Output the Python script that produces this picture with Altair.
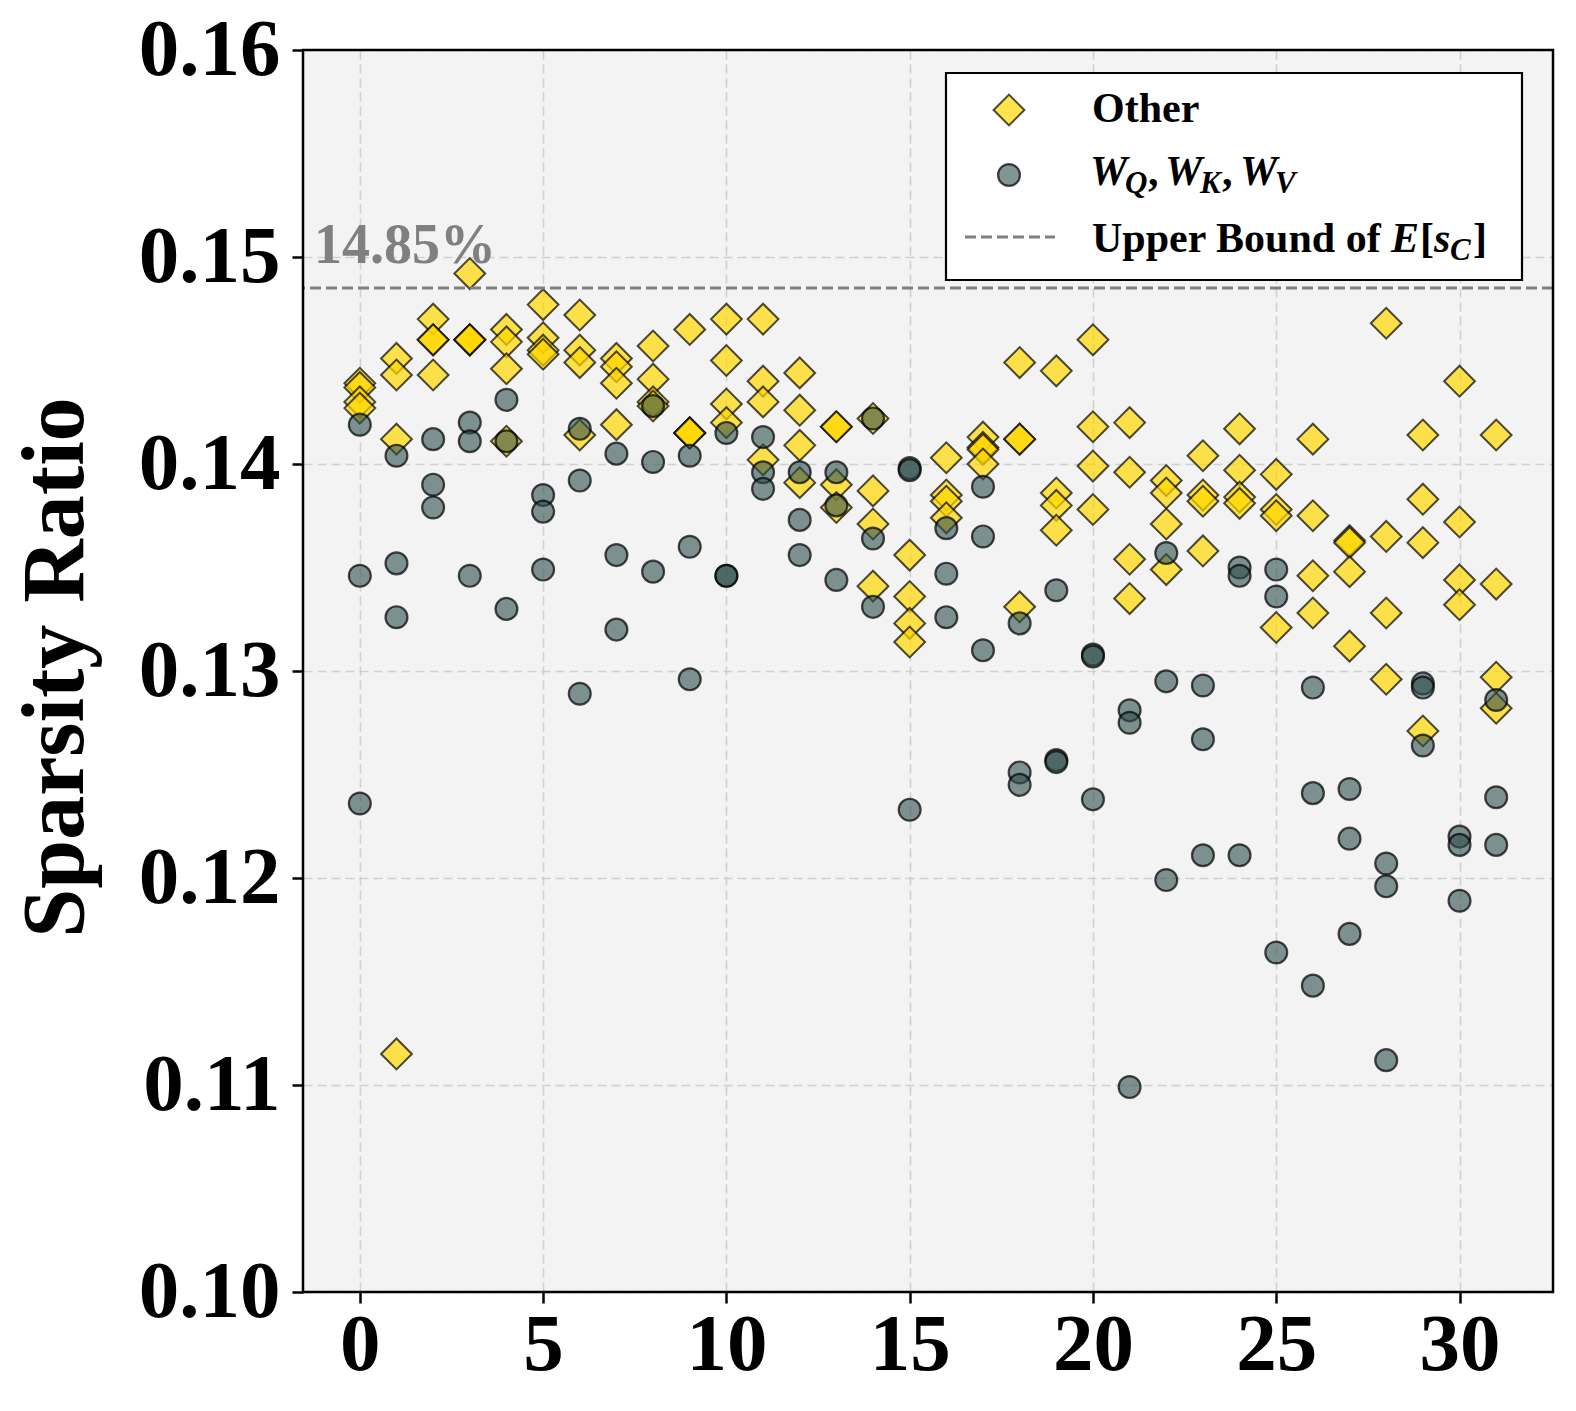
import altair as alt
import pandas as pd

# ---------------- data ----------------
layers = list(range(32))

other_vals = [
    [0.1439, 0.1437, 0.1430, 0.1427],
    [0.1451, 0.1443, 0.1412, 0.1115],
    [0.1470, 0.1460, 0.1460, 0.1443],
    [0.1492, 0.1460, 0.1460, 0.1460],
    [0.1465, 0.1459, 0.1446, 0.1411],
    [0.1477, 0.1461, 0.1455, 0.1453],
    [0.1472, 0.1455, 0.1449, 0.1414],
    [0.1451, 0.1447, 0.1439, 0.1419],
    [0.1457, 0.1441, 0.1430, 0.1428],
    [0.1465, 0.1415, 0.1415, 0.1415],
    [0.1470, 0.1450, 0.1429, 0.1420],
    [0.1470, 0.1440, 0.1430, 0.1402],
    [0.1444, 0.1426, 0.1409, 0.1391],
    [0.1418, 0.1418, 0.1390, 0.1379],
    [0.1422, 0.1387, 0.1371, 0.1341],
    [0.1356, 0.1336, 0.1323, 0.1314],
    [0.1403, 0.1385, 0.1382, 0.1374],
    [0.1413, 0.1408, 0.1407, 0.1400],
    [0.1449, 0.1412, 0.1412, 0.1331],
    [0.1445, 0.1386, 0.1380, 0.1368],
    [0.1460, 0.1418, 0.1399, 0.1378],
    [0.1420, 0.1396, 0.1354, 0.1335],
    [0.1392, 0.1386, 0.1371, 0.1349],
    [0.1404, 0.1385, 0.1382, 0.1358],
    [0.1417, 0.1397, 0.1384, 0.1381],
    [0.1395, 0.1378, 0.1375, 0.1321],
    [0.1412, 0.1375, 0.1346, 0.1328],
    [0.1363, 0.1362, 0.1348, 0.1312],
    [0.1468, 0.1365, 0.1328, 0.1296],
    [0.1414, 0.1383, 0.1362, 0.1271],
    [0.1440, 0.1372, 0.1344, 0.1332],
    [0.1414, 0.1342, 0.1297, 0.1282],
]

qkv_vals = [
    [0.1419, 0.1346, 0.1236],
    [0.1404, 0.1352, 0.1326],
    [0.1412, 0.1390, 0.1379],
    [0.1420, 0.1411, 0.1346],
    [0.1431, 0.1411, 0.1330],
    [0.1385, 0.1377, 0.1349],
    [0.1417, 0.1392, 0.1289],
    [0.1405, 0.1356, 0.1320],
    [0.1428, 0.1401, 0.1348],
    [0.1404, 0.1360, 0.1296],
    [0.1415, 0.1346, 0.1346],
    [0.1413, 0.1396, 0.1388],
    [0.1396, 0.1373, 0.1356],
    [0.1396, 0.1380, 0.1344],
    [0.1422, 0.1364, 0.1331],
    [0.1398, 0.1397, 0.1233],
    [0.1369, 0.1347, 0.1326],
    [0.1389, 0.1365, 0.1310],
    [0.1323, 0.1251, 0.1245],
    [0.1339, 0.1257, 0.1256],
    [0.1308, 0.1307, 0.1238],
    [0.1281, 0.1275, 0.1099],
    [0.1357, 0.1295, 0.1199],
    [0.1293, 0.1267, 0.1211],
    [0.1350, 0.1346, 0.1211],
    [0.1349, 0.1336, 0.1164],
    [0.1292, 0.1241, 0.1148],
    [0.1243, 0.1219, 0.1173],
    [0.1207, 0.1196, 0.1112],
    [0.1294, 0.1292, 0.1264],
    [0.1220, 0.1216, 0.1189],
    [0.1286, 0.1239, 0.1216],
]

upper_bound = 0.1485
upper_label = "14.85%"
x_ticks = [0, 5, 10, 15, 20, 25, 30]
y_ticks = [0.10, 0.11, 0.12, 0.13, 0.14, 0.15, 0.16]

# ---------------- tables ----------------
df_other = pd.DataFrame(
    [{"layer": l, "ratio": v} for l, vals in zip(layers, other_vals) for v in vals]
)
df_qkv = pd.DataFrame(
    [{"layer": l, "ratio": v} for l, vals in zip(layers, qkv_vals) for v in vals]
)
df_ub = pd.DataFrame({"ratio": [upper_bound], "layer": [-1.25], "label": [upper_label]})

SERIF = "Liberation Serif"
W, H = 1250, 1242

xs = alt.Scale(domain=[-1.55, 32.55], nice=False, zero=False)
ys = alt.Scale(domain=[0.10, 0.16], nice=False, zero=False)

x_enc = alt.X(
    "layer:Q", scale=xs, title=None,
    axis=alt.Axis(values=x_ticks, format="d", labelPadding=2),
)
y_enc = alt.Y(
    "ratio:Q", scale=ys, title="Sparsity Ratio",
    axis=alt.Axis(
        values=y_ticks, format=".2f", labelPadding=12,
        titleFont=SERIF, titleFontSize=88, titleFontWeight="bold",
        titleColor="black", titleAngle=270, titleAlign="center",
        titleBaseline="bottom", titleX=-203, titleY=617,
    ),
)

DIAMOND = dict(shape="diamond", filled=True, fill="#FFD700", fillOpacity=0.7,
               stroke="black", strokeOpacity=0.7, strokeWidth=2, size=950)
CIRCLE = dict(shape="circle", filled=True, fill="#2F4F4F", fillOpacity=0.6,
              stroke="black", strokeOpacity=0.7, strokeWidth=2.2, size=480)

other_pts = alt.Chart(df_other).mark_point(**DIAMOND).encode(x=x_enc, y=y_enc)
qkv_pts = alt.Chart(df_qkv).mark_point(**CIRCLE).encode(x=x_enc, y=y_enc)

ub_rule = alt.Chart(df_ub).mark_rule(
    color="#808080", strokeWidth=3, strokeDash=[11, 5]
).encode(y=alt.Y("ratio:Q", scale=ys))

ub_text = alt.Chart(df_ub).mark_text(
    align="left", baseline="alphabetic", dy=-25, font=SERIF,
    fontWeight="bold", fontSize=56, color="#808080",
).encode(x=alt.X("layer:Q", scale=xs), y=alt.Y("ratio:Q", scale=ys), text="label:N")

# frame drawn on top of the grid (matplotlib spines)
frame = alt.Chart(df_ub).mark_rect(
    filled=False, fill=None, stroke="black", strokeWidth=2.5
).encode(x=alt.value(0), x2=alt.value(W), y=alt.value(0), y2=alt.value(H))

# ---------------- hand-built legend (pixel layout) ----------------
def txt(t, px, py, size=42, style="normal"):
    return alt.Chart(df_ub).mark_text(
        text=t, align="left", baseline="alphabetic", font=SERIF,
        fontWeight="bold", fontStyle=style, fontSize=size, color="black",
    ).encode(x=alt.value(px), y=alt.value(py))

leg_box = alt.Chart(df_ub).mark_rect(
    fill="white", stroke="black", strokeWidth=2.2
).encode(x=alt.value(643), x2=alt.value(1219), y=alt.value(23), y2=alt.value(230))

leg_diamond = alt.Chart(df_ub).mark_point(**DIAMOND).encode(x=alt.value(706), y=alt.value(60))
leg_circle = alt.Chart(df_ub).mark_point(**CIRCLE).encode(x=alt.value(706), y=alt.value(125))
leg_line = alt.Chart(df_ub).mark_rule(
    color="#808080", strokeWidth=3, strokeDash=[11, 5]
).encode(x=alt.value(662), x2=alt.value(752), y=alt.value(187))

SUB = 31
legend_parts = [
    leg_box, leg_diamond, leg_circle, leg_line,
    txt("Other", 789, 72),
    # W_Q, W_K, W_V
    txt("W", 787, 135, style="italic"), txt("Q", 822, 143, SUB, "italic"), txt(",", 845, 135),
    txt("W", 862, 135, style="italic"), txt("K", 897, 143, SUB, "italic"), txt(",", 919, 135),
    txt("W", 937, 135, style="italic"), txt("V", 972, 143, SUB, "italic"),
    # Upper Bound of E[s_C]
    txt("Upper Bound of", 789, 202),
    txt("E", 1088, 202, style="italic"), txt("[", 1117, 202),
    txt("s", 1131, 202, style="italic"), txt("C", 1147, 210, SUB, "italic"),
    txt("]", 1170, 202),
]

chart = alt.layer(
    other_pts, qkv_pts, ub_rule, ub_text, frame, *legend_parts
).properties(
    width=W, height=H,
    autosize=alt.AutoSizeParams(type="none"),
    padding={"left": 295, "top": 42, "right": 15, "bottom": 110},
    background="white",
).configure_view(
    fill="#f3f3f3", stroke=None
).configure_axis(
    labelFont=SERIF, labelFontSize=81, labelFontWeight="bold", labelColor="black",
    labelFlush=False, labelOverlap=False, labelBound=False,
    domain=False, ticks=True, tickColor="black", tickSize=11, tickWidth=2.5,
    grid=True, gridColor="#c8c8c8", gridDash=[9, 5], gridWidth=1.6, gridOpacity=0.8,
)

chart.save("out.html", embed_options={"renderer": "svg", "actions": False})
